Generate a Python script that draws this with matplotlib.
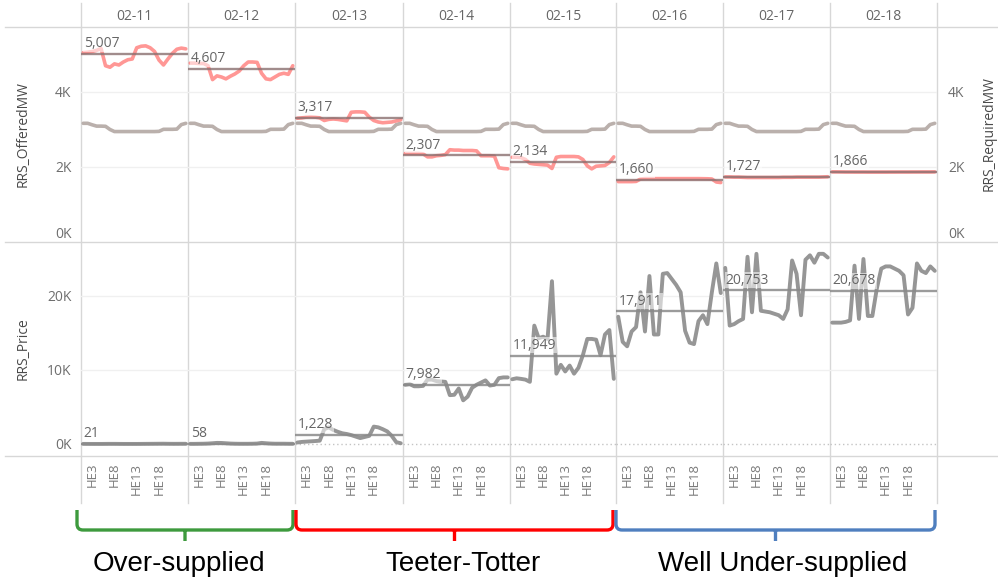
import matplotlib
matplotlib.use('Agg')
import matplotlib.pyplot as plt
from matplotlib.lines import Line2D
from matplotlib.path import Path
from matplotlib.patches import PathPatch

plt.rcParams['font.family'] = ['Open Sans', 'DejaVu Sans']

# ---------------- data ----------------
days = ['02-11', '02-12', '02-13', '02-14', '02-15', '02-16', '02-17', '02-18']
hours = list(range(1, 25))
hour_tick_pos = [3, 8, 13, 18]
hour_tick_labels = ['HE3', 'HE8', 'HE13', 'HE18']

offered_mw = [
    [5050, 5060, 5080, 5110, 5160, 4700, 4660, 4750, 4720, 4800, 4860, 4880,
     5180, 5220, 5230, 5180, 5080, 4850, 4720, 4880, 5030, 5140, 5170, 5150],
    [4770, 4770, 4760, 4760, 4700, 4330, 4430, 4400, 4350, 4420, 4480, 4560,
     4700, 4800, 4800, 4790, 4500, 4350, 4330, 4400, 4470, 4500, 4470, 4700],
    [3300, 3310, 3330, 3340, 3330, 3310, 3240, 3270, 3280, 3270, 3250, 3230,
     3460, 3470, 3470, 3460, 3330, 3240, 3200, 3180, 3190, 3200, 3230, 3260],
    [2360, 2360, 2360, 2360, 2350, 2270, 2270, 2300, 2310, 2330, 2460, 2450,
     2450, 2440, 2440, 2440, 2430, 2300, 2300, 2300, 2290, 1980, 1960, 1950],
    [2260, 2260, 2250, 2200, 2100, 2080, 2070, 2060, 2050, 1960, 2260, 2280,
     2280, 2280, 2280, 2270, 2200, 2030, 1950, 2020, 2030, 2040, 2120, 2270],
    [1610, 1610, 1610, 1610, 1615, 1680, 1690, 1690, 1690, 1690, 1690, 1690,
     1690, 1690, 1690, 1690, 1690, 1690, 1690, 1688, 1686, 1680, 1600, 1585],
    [1735, 1735, 1730, 1730, 1725, 1720, 1720, 1720, 1720, 1720, 1720, 1720,
     1720, 1725, 1725, 1725, 1730, 1730, 1730, 1730, 1730, 1730, 1735, 1740],
    [1870, 1870, 1868, 1866, 1866, 1865, 1865, 1865, 1864, 1864, 1864, 1864,
     1864, 1865, 1865, 1866, 1866, 1866, 1867, 1867, 1868, 1868, 1868, 1870],
]

required_mw = [
    [3165, 3165, 3125, 3090, 3090, 3085, 3000, 2945, 2945, 2945, 2945, 2945,
     2945, 2945, 2945, 2945, 2945, 2950, 3005, 3005, 3005, 3010, 3130, 3165],
    [3165, 3165, 3125, 3090, 3090, 3085, 3000, 2945, 2945, 2945, 2945, 2945,
     2945, 2945, 2945, 2945, 2945, 2950, 3005, 3005, 3005, 3010, 3130, 3165],
    [3165, 3165, 3125, 3090, 3090, 3085, 3000, 2945, 2945, 2945, 2945, 2945,
     2945, 2945, 2945, 2945, 2945, 2950, 3005, 3005, 3005, 3010, 3130, 3165],
    [3165, 3165, 3125, 3090, 3090, 3085, 3000, 2945, 2945, 2945, 2945, 2945,
     2945, 2945, 2945, 2945, 2945, 2950, 3005, 3005, 3005, 3010, 3130, 3165],
    [3165, 3165, 3125, 3090, 3090, 3085, 3000, 2945, 2945, 2945, 2945, 2945,
     2945, 2945, 2945, 2945, 2945, 2950, 3005, 3005, 3005, 3010, 3130, 3165],
    [3165, 3165, 3125, 3090, 3090, 3085, 3000, 2945, 2945, 2945, 2945, 2945,
     2945, 2945, 2945, 2945, 2945, 2950, 3005, 3005, 3005, 3010, 3130, 3165],
    [3165, 3165, 3125, 3090, 3090, 3085, 3000, 2945, 2945, 2945, 2945, 2945,
     2945, 2945, 2945, 2945, 2945, 2950, 3005, 3005, 3005, 3010, 3130, 3165],
    [3165, 3165, 3125, 3090, 3090, 3085, 3000, 2945, 2945, 2945, 2945, 2945,
     2945, 2945, 2945, 2945, 2945, 2950, 3005, 3005, 3005, 3010, 3130, 3165],
]

rrs_price = [
    [20, 15, 10, 10, 10, 15, 20, 20, 15, 10, 10, 10,
     10, 15, 20, 25, 30, 35, 40, 30, 25, 25, 30, 30],
    [20, 20, 30, 40, 60, 100, 150, 140, 100, 60, 40, 30,
     30, 30, 40, 60, 150, 100, 60, 40, 40, 40, 30, 30],
    [200, 280, 320, 360, 400, 450, 2000, 2250, 1900, 1650, 1450, 1350,
     1200, 1000, 800, 950, 1100, 2350, 2250, 2000, 1700, 1100, 250, 100],
    [8000, 8100, 7800, 7800, 7850, 8700, 8700, 8500, 8450, 8400, 6600, 6650,
     7500, 5900, 6400, 7600, 8000, 8300, 8600, 7900, 8000, 8900, 9000, 9000],
    [8750, 8880, 8800, 8700, 8400, 16000, 14300, 14500, 14200, 22000, 9500, 10700,
     9800, 10600, 9500, 10300, 12000, 14200, 14200, 14100, 12000, 14800, 15400, 8800],
    [17200, 13800, 13200, 15200, 15800, 20500, 15200, 22700, 14800, 14800, 23000, 23100,
     22300, 21500, 20500, 15300, 13700, 13500, 16600, 17400, 16200, 20500, 24400, 20400],
    [23800, 16000, 16200, 16600, 16900, 25300, 17800, 25700, 18000, 17900, 17800, 17600,
     17400, 16900, 18200, 24800, 23000, 17400, 24900, 25500, 24500, 25700, 25700, 25200],
    [16400, 16400, 16400, 16500, 16700, 24100, 16900, 25000, 17300, 17300, 21000, 23700,
     24000, 24000, 23700, 23400, 22800, 17500, 18400, 24400, 23400, 23100, 24000, 23400],
]

avg_offered = [5007, 4607, 3317, 2307, 2134, 1660, 1727, 1866]
avg_price = [21, 58, 1228, 7982, 11949, 17911, 20753, 20678]

top_ticks = [0, 2000, 4000]
top_tick_labels = ['0K', '2K', '4K']
bot_ticks = [0, 10000, 20000]
bot_tick_labels = ['0K', '10K', '20K']

groups = ['Over-supplied', 'Teeter-Totter', 'Well Under-supplied']
group_colors = ['#3d9a3d', '#ff0000', '#4f7fbf']

# ---------------- layout ----------------
W, H = 998, 579
borders = [81, 188, 295, 403, 510, 616, 723, 830, 937]
TOP, MID, BOT = 27, 242, 456
GRID = '#d7d7d7'
TXT = '#6e6e6e'

def fx(px):
    return px / W

def fy(py):
    return 1 - py / H

fig = plt.figure(figsize=(W / 100, H / 100), dpi=100)

for i, day in enumerate(days):
    l, r = borders[i], borders[i + 1]
    axt = fig.add_axes([fx(l), fy(MID), fx(r) - fx(l), (MID - TOP) / H])
    axb = fig.add_axes([fx(l), fy(BOT), fx(r) - fx(l), (BOT - MID) / H])
    for ax in (axt, axb):
        ax.set_xlim(0.5, 24.5)
        ax.set_facecolor('none')
        for s in ax.spines.values():
            s.set_visible(False)
        ax.tick_params(length=0)
    axt.set_ylim(0, 5733)
    axb.set_ylim(-1622, 27297)

    # top pane
    for g in top_ticks[1:]:
        axt.axhline(g, color='#f0f0f0', lw=1, zorder=0)
    axt.plot(hours, required_mw[i], color='#bab0ac', lw=2.6,
             solid_joinstyle='round', solid_capstyle='round', zorder=2)
    axt.plot(hours, offered_mw[i], color='#ff8c8a', lw=2.6, alpha=0.9,
             solid_joinstyle='round', solid_capstyle='round', zorder=3)
    axt.axhline(avg_offered[i], color='#8a7070', lw=1.7, alpha=0.8, zorder=4)
    axt.annotate(f'{avg_offered[i]:,}', xy=(0, avg_offered[i]),
                 xycoords=axt.get_yaxis_transform(), xytext=(2, 2),
                 textcoords='offset points', ha='left', va='bottom',
                 fontsize=10, color='#666666', zorder=5,
                 bbox=dict(boxstyle='square,pad=0.05', fc='white', ec='none', alpha=0.55))
    axt.set_xticks([])

    # bottom pane
    for g in bot_ticks[1:]:
        axb.axhline(g, color='#f0f0f0', lw=1, zorder=0)
    axb.axhline(0, color='#c4c4c4', lw=1, ls=(0, (1, 2)), zorder=1)
    axb.plot(hours, rrs_price[i], color='#969696', lw=2.8,
             solid_joinstyle='round', solid_capstyle='round', zorder=3)
    axb.axhline(avg_price[i], color='#8a8a8a', lw=1.7, alpha=0.85, zorder=4)
    axb.annotate(f'{avg_price[i]:,}', xy=(0, avg_price[i]),
                 xycoords=axb.get_yaxis_transform(), xytext=(2, 2),
                 textcoords='offset points', ha='left', va='bottom',
                 fontsize=10, color='#666666', zorder=5,
                 bbox=dict(boxstyle='square,pad=0.05', fc='white', ec='none', alpha=0.55))
    axb.set_xticks(hour_tick_pos)
    axb.set_xticklabels(hour_tick_labels, rotation=90, fontsize=9.5, color='#7a7a7a')
    axb.tick_params(axis='x', pad=5)

    if i == 0:
        axt.set_yticks(top_ticks)
        axt.set_yticklabels(top_tick_labels, fontsize=10, color=TXT)
        axt.get_yticklabels()[0].set_va('bottom')
        axt.tick_params(axis='y', pad=7)
        axb.set_yticks(bot_ticks)
        axb.set_yticklabels(bot_tick_labels, fontsize=10, color=TXT)
        axb.tick_params(axis='y', pad=7)
    else:
        axt.set_yticks([])
        axb.set_yticks([])

    if i == len(days) - 1:
        axr = axt.twinx()
        axr.set_ylim(axt.get_ylim())
        for s in axr.spines.values():
            s.set_visible(False)
        axr.set_yticks(top_ticks)
        axr.set_yticklabels(top_tick_labels, fontsize=10, color=TXT)
        axr.get_yticklabels()[0].set_va('bottom')
        axr.tick_params(axis='y', length=0, pad=8)

    fig.text(fx((l + r) / 2), fy(16), day, ha='center', va='center',
             fontsize=10, color='#666666')

# axis titles
fig.text(fx(23), fy(134), 'RRS_OfferedMW', rotation=90, ha='center', va='center',
         fontsize=10, color='#4a4a4a')
fig.text(fx(23), fy(349), 'RRS_Price', rotation=90, ha='center', va='center',
         fontsize=10, color='#4a4a4a')
fig.text(fx(989), fy(134), 'RRS_RequiredMW', rotation=90, ha='center', va='center',
         fontsize=10, color='#4a4a4a')

# frame lines
for b in borders:
    fig.add_artist(Line2D([fx(b), fx(b)], [fy(3), fy(503)], transform=fig.transFigure,
                          color=GRID, lw=1, zorder=0))
for yy in (TOP, MID, BOT):
    fig.add_artist(Line2D([fx(5), fx(998)], [fy(yy), fy(yy)], transform=fig.transFigure,
                          color=GRID, lw=1, zorder=0))

# brackets
bracket_x = [(borders[0] - 4, borders[2] - 2),
             (borders[2] + 1, borders[5] - 3),
             (borders[5], borders[8] - 2)]
label_x = [179, 463, 783]
for (x0, x1), name, col, tx in zip(bracket_x, groups, group_colors, label_x):
    ytop, yh, ynub, rr = 510, 530, 541, 6
    xc = (x0 + x1) / 2
    pts = [(x0, ytop), (x0, yh - rr), (x0, yh), (x0 + rr, yh),
           (x1 - rr, yh), (x1, yh), (x1, yh - rr), (x1, ytop),
           (xc, yh), (xc, ynub)]
    codes = [Path.MOVETO, Path.LINETO, Path.CURVE3, Path.CURVE3,
             Path.LINETO, Path.CURVE3, Path.CURVE3, Path.LINETO,
             Path.MOVETO, Path.LINETO]
    path = Path([(fx(a), fy(b)) for a, b in pts], codes)
    fig.add_artist(PathPatch(path, transform=fig.transFigure, fc='none', ec=col,
                             lw=2.4, capstyle='butt', joinstyle='round'))
    fig.text(fx(tx), fy(571), name, ha='center', va='baseline', fontsize=20,
             color='black', family=['Liberation Sans', 'DejaVu Sans'])

fig.savefig('out.png', dpi=100)
